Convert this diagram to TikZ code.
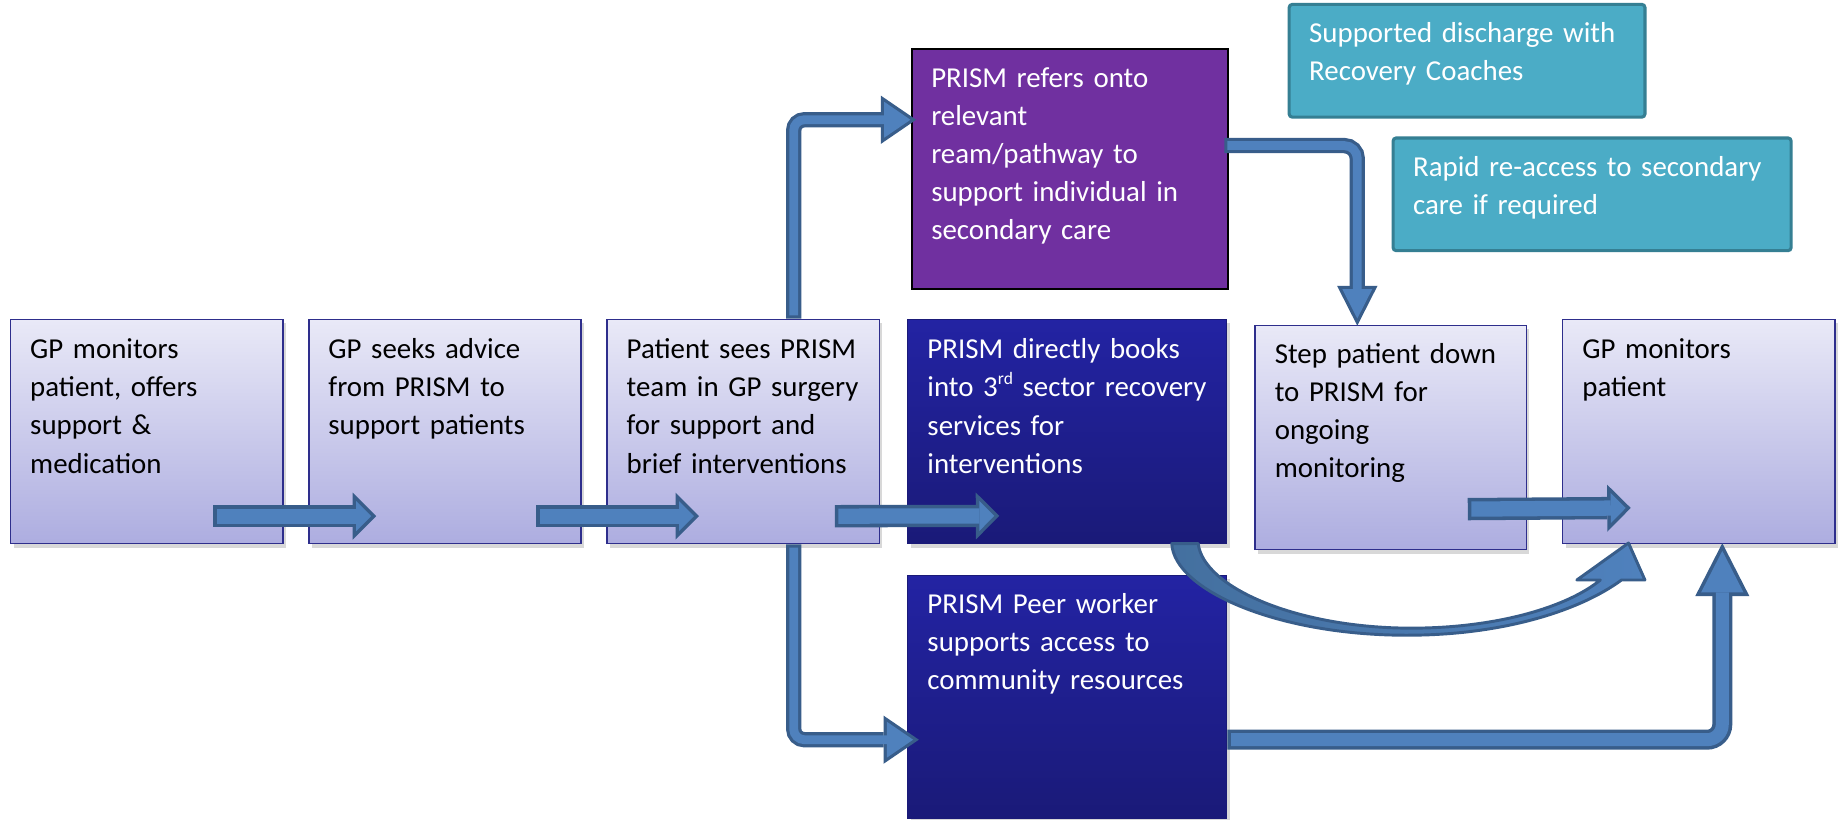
\documentclass[tikz,border=0pt]{standalone}
\usepackage{fontspec}
\setmainfont{Carlito}
\usetikzlibrary{arrows.meta, calc, shadows}

\definecolor{arrowfill}{HTML}{4F81BD}
\definecolor{arrowedge}{HTML}{385D8A}
\definecolor{arrowmid}{HTML}{44709F}
\definecolor{stagetop}{HTML}{E9E9F7}
\definecolor{stagebot}{HTML}{ADADE0}
\definecolor{stageline}{HTML}{2E2E8C}
\definecolor{navytop}{HTML}{2323A3}
\definecolor{navybot}{HTML}{1A1A78}
\definecolor{referfill}{HTML}{7030A0}
\definecolor{notefill}{HTML}{4BACC6}
\definecolor{noteline}{HTML}{357F93}

\begin{document}
\begin{tikzpicture}[
    font=\fontsize{14}{18.5}\selectfont,
    stage/.style={draw=stageline, line width=0.7pt, top color=stagetop, bottom color=stagebot,
                  minimum width=4.64cm, minimum height=3.82cm,
                  drop shadow={shadow xshift=0.05cm, shadow yshift=-0.07cm, opacity=0.3}},
    navy/.style={draw=navybot, line width=0.5pt, top color=navytop, bottom color=navybot,
                 minimum width=5.44cm,
                 drop shadow={shadow xshift=0.05cm, shadow yshift=-0.07cm, opacity=0.3}},
    referbox/.style={draw=black, line width=0.8pt, fill=referfill,
                     minimum width=5.39cm, minimum height=4.08cm},
    note/.style={draw=noteline, line width=1.5pt, fill=notefill, rounded corners=1.5pt,
                 minimum height=1.92cm},
    txt/.style={anchor=base west, align=left, inner sep=0pt},
    % block arrows: dark outer stroke first, lighter body on top
    flow/.style={draw=arrowfill, line width=0.26cm, shorten <=0.06cm, shorten >=0.085cm,
                 -{Triangle[length=0.255cm, width=0.51cm, line width=0pt]},
                 preaction={draw=arrowedge, line width=0.38cm, shorten <=0pt, shorten >=0pt,
                            -{Triangle[length=0.40cm, width=0.80cm, line width=0pt]}}},
    branch/.style={rounded corners=0.18cm, draw=arrowfill, line width=0.15cm,
                   shorten <=0.055cm, shorten >=0.0975cm,
                   -{Triangle[length=0.4475cm, width=0.612cm, line width=0pt]},
                   preaction={draw=arrowedge, line width=0.26cm, shorten <=0pt, shorten >=0pt,
                              -{Triangle[length=0.60cm, width=0.82cm, line width=0pt]}}},
    hook/.style={rounded corners=0.22cm, draw=arrowfill, line width=0.15cm,
                 shorten <=0.055cm, shorten >=0.1216cm,
                 -{Triangle[length=0.503cm, width=0.511cm, line width=0pt]},
                 preaction={draw=arrowedge, line width=0.26cm, shorten <=0pt, shorten >=0pt,
                            -{Triangle[length=0.68cm, width=0.69cm, line width=0pt]}}},
    rejoin/.style={rounded corners=0.26cm, draw=arrowfill, line width=0.22cm,
                   shorten <=0.06cm, shorten >=0.132cm,
                   -{Triangle[length=0.708cm, width=0.724cm, line width=0pt]},
                   preaction={draw=arrowedge, line width=0.34cm, shorten <=0pt, shorten >=0pt,
                              -{Triangle[length=0.90cm, width=0.92cm, line width=0pt]}}},
    swoop/.style={draw=arrowedge, line width=0.05cm, line join=round,
                  left color=arrowmid, right color=arrowfill}
  ]
  \useasboundingbox (0,0) rectangle (31.36,13.96);
  \fill[white] (0,0) rectangle (31.36,13.96);

  % main pathway
  \node[stage] (gp) at (2.50,6.61) {};
  \node[stage] (advice) at (7.58,6.61) {};
  \node[stage] (sees) at (12.66,6.61) {};
  \node[navy, minimum height=3.82cm] (books) at (18.18,6.61) {};
  \node[stage, minimum width=4.62cm] (stepdn) at (23.69,6.51) {};
  \node[stage] (gpagain) at (28.94,6.61) {};

  % secondary care and peer support
  \node[referbox] (refer) at (18.225,11.08) {};
  \node[navy, minimum height=4.14cm] (peer) at (18.18,2.09) {};

  % after discharge
  \node[note, minimum width=6.06cm] (discharge) at (24.99,12.925) {};
  \node[note, minimum width=6.78cm] (reaccess) at (27.12,10.65) {};

  % texts
  \node[txt, text width=4.2cm] (gp-t) at ($(gp.north west)+(0.34,-0.68)$)
       {GP monitors\\patient, offers\\support \&\\medication};
  \node[txt, text width=4.2cm] (advice-t) at ($(advice.north west)+(0.34,-0.68)$)
       {GP seeks advice\\from PRISM to\\support patients};
  \node[txt, text width=4.2cm] (sees-t) at ($(sees.north west)+(0.34,-0.68)$)
       {Patient sees PRISM\\team in GP surgery\\for support and\\brief interventions};
  \node[txt, text width=5.0cm, text=white] (books-t) at ($(books.north west)+(0.34,-0.68)$)
       {PRISM directly books\\into 3\raisebox{0.42em}{\fontsize{8.5}{8.5}\selectfont rd} sector recovery\\services for\\interventions};
  \node[txt, text width=4.2cm] (stepdn-t) at ($(stepdn.north west)+(0.34,-0.66)$)
       {Step patient down\\to PRISM for\\ongoing\\monitoring};
  \node[txt, text width=4.2cm] (gpagain-t) at ($(gpagain.north west)+(0.34,-0.68)$)
       {GP monitors\\patient};
  \node[txt, text width=5.0cm, text=white] (refer-t) at ($(refer.north west)+(0.34,-0.66)$)
       {PRISM refers onto\\relevant\\ream/pathway to\\support individual in\\secondary care};
  \node[txt, text width=5.0cm, text=white] (peer-t) at ($(peer.north west)+(0.34,-0.66)$)
       {PRISM Peer worker\\supports access to\\community resources};
  \node[txt, text width=5.6cm, text=white] (discharge-t) at ($(discharge.north west)+(0.36,-0.68)$)
       {Supported discharge with\\Recovery Coaches};
  \node[txt, text width=6.3cm, text=white] (reaccess-t) at ($(reaccess.north west)+(0.36,-0.68)$)
       {Rapid re-access to secondary\\care if required};

  % straight steps along the row
  \coordinate (a1s) at ($(gp.south east)+(-1.20,0.48)$);
  \coordinate (a1e) at ($(advice.south west)+(1.16,0.48)$);
  \coordinate (a2s) at ($(advice.south east)+(-0.78,0.48)$);
  \coordinate (a2e) at ($(sees.south west)+(1.58,0.48)$);
  \coordinate (a3s) at ($(sees.south east)+(-0.77,0.48)$);
  \coordinate (a3e) at ($(books.south west)+(1.57,0.48)$);
  \coordinate (a4s) at ($(stepdn.south east)+(-1.01,0.70)$);
  \coordinate (a4e) at ($(gpagain.south west)+(1.17,0.62)$);
  \draw[flow] (a1s) -- (a1e);
  \draw[flow] (a2s) -- (a2e);
  \draw[flow] (a3s) -- (a3e);
  \draw[flow] (a4s) -- (a4e);

  % branches out of the GP surgery
  \draw[branch] ($(sees.north)+(0.86,0)$) |- ($(refer.west)+(0.09,0.84)$);
  \draw[branch] ($(sees.south)+(0.86,0)$) |- ($(peer.west)+(0.20,-0.73)$);

  % back down from secondary care
  \draw[hook] ($(refer.east)+(-0.08,0.40)$) -| ($(stepdn.north)+(-0.57,-0.02)$);

  % peer support back to the GP
  \draw[rejoin] ($(peer.east)+(0,-0.73)$) -| ($(gpagain.south west)+(2.73,0.02)$);

  % curved arrow from the 3rd sector services to the GP
  \filldraw[swoop] (19.96,4.70) .. controls (20.0,3.9) and (21.8,3.12) .. (24.04,3.14)
      .. controls (25.6,3.15) and (26.9,3.55) .. (27.62,4.08)
      -- (28.02,4.08) -- (27.74,4.71) -- (26.86,4.08) -- (27.26,4.08)
      .. controls (26.7,3.62) and (25.5,3.26) .. (24.04,3.26)
      .. controls (22.1,3.26) and (20.5,3.95) .. (20.41,4.70) -- cycle;
\end{tikzpicture}
\end{document}
